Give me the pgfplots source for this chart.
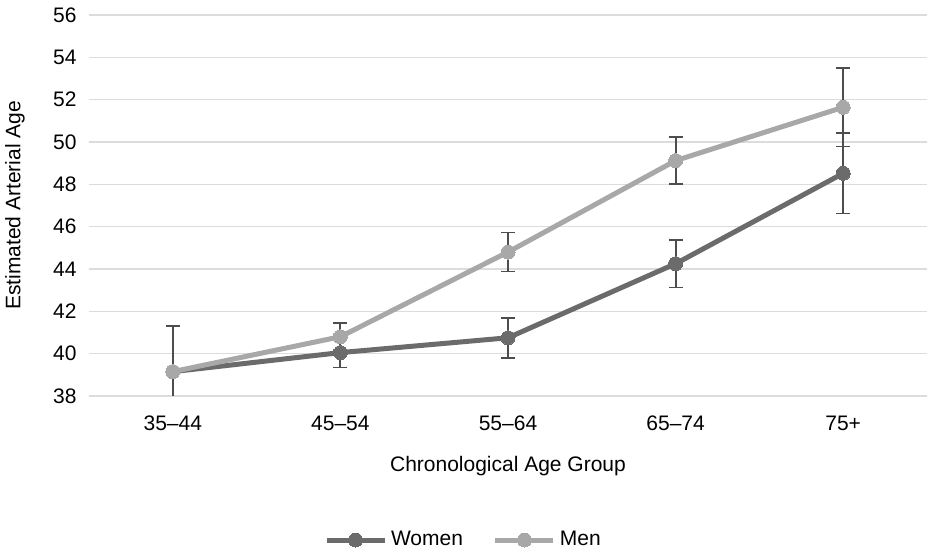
\documentclass[border=0pt]{standalone}
\usepackage{fontspec}
\setmainfont{Liberation Sans}
\usepackage{pgfplots}
\pgfplotsset{compat=1.18}
\definecolor{womenc}{HTML}{6B6B6B}
\definecolor{menc}{HTML}{A8A8A8}
\definecolor{errc}{HTML}{4D4D4D}
\definecolor{gridc}{HTML}{DCDCDC}
\begin{document}
\begin{tikzpicture}
\begin{axis}[
  scale only axis, width=419pt, height=190.5pt,
  xmin=-0.5, xmax=4.5, ymin=38, ymax=56,
  xtick={0,1,2,3,4}, xticklabels={35--44,45--54,55--64,65--74,75+},
  ytick={38,40,...,56},
  axis line style={draw=none}, major tick length=0pt,
  ymajorgrids, grid style={gridc, line width=0.75pt},
  font=\fontsize{10.5}{12.5}\selectfont,
  /pgf/number format/assume math mode=true,
  yticklabel style={anchor=east, xshift=-2.7pt},
  xticklabel style={anchor=center, yshift=-13.5pt},
  xlabel={Chronological Age Group},
  xlabel style={at={(axis description cs:0.5,-0.1837)}, anchor=center},
  ylabel={Estimated Arterial Age},
  ylabel style={at={(axis description cs:-0.0883,0.5)}, anchor=center},
  legend columns=2,
  legend style={at={(axis description cs:0.448,-0.378)}, anchor=center, draw=none,
    font=\fontsize{10.5}{12.5}\selectfont,
    /tikz/every even column/.append style={column sep=13pt}},
  legend image code/.code={
    \draw[mark repeat=2,mark phase=2,#1] plot coordinates {(0pt,0pt) (14.5pt,0pt) (29pt,0pt)};},
]
\addplot[womenc, line width=2.5pt, mark=*, mark size=3.5pt,
  mark options={fill=womenc, draw=womenc, line width=0pt},
  error bars/.cd, y dir=both, y explicit,
  error bar style={errc, line width=0.9pt},
  error mark options={rotate=90, mark size=3.5pt, errc, line width=0.9pt}]
  table[x=x, y=y, y error=e] {
x y e
0 39.15 2.15
1 40.05 0.70
2 40.75 0.95
3 44.25 1.12
4 48.52 1.90
};
\addlegendentry{Women}
\addplot[menc, line width=2.5pt, mark=*, mark size=3.5pt,
  mark options={fill=menc, draw=menc, line width=0pt},
  error bars/.cd, y dir=both, y explicit,
  error bar style={errc, line width=0.9pt},
  error mark options={rotate=90, mark size=3.5pt, errc, line width=0.9pt}]
  table[x=x, y=y, y error=e] {
x y e
0 39.15 2.15
1 40.80 0.65
2 44.80 0.92
3 49.12 1.10
4 51.64 1.85
};
\addlegendentry{Men}
\end{axis}
\pgfresetboundingbox
\path[use as bounding box] ([xshift=-44.5pt,yshift=-79pt]current axis.south west) rectangle ([yshift=7.5pt]current axis.north east);
\end{tikzpicture}
\end{document}
